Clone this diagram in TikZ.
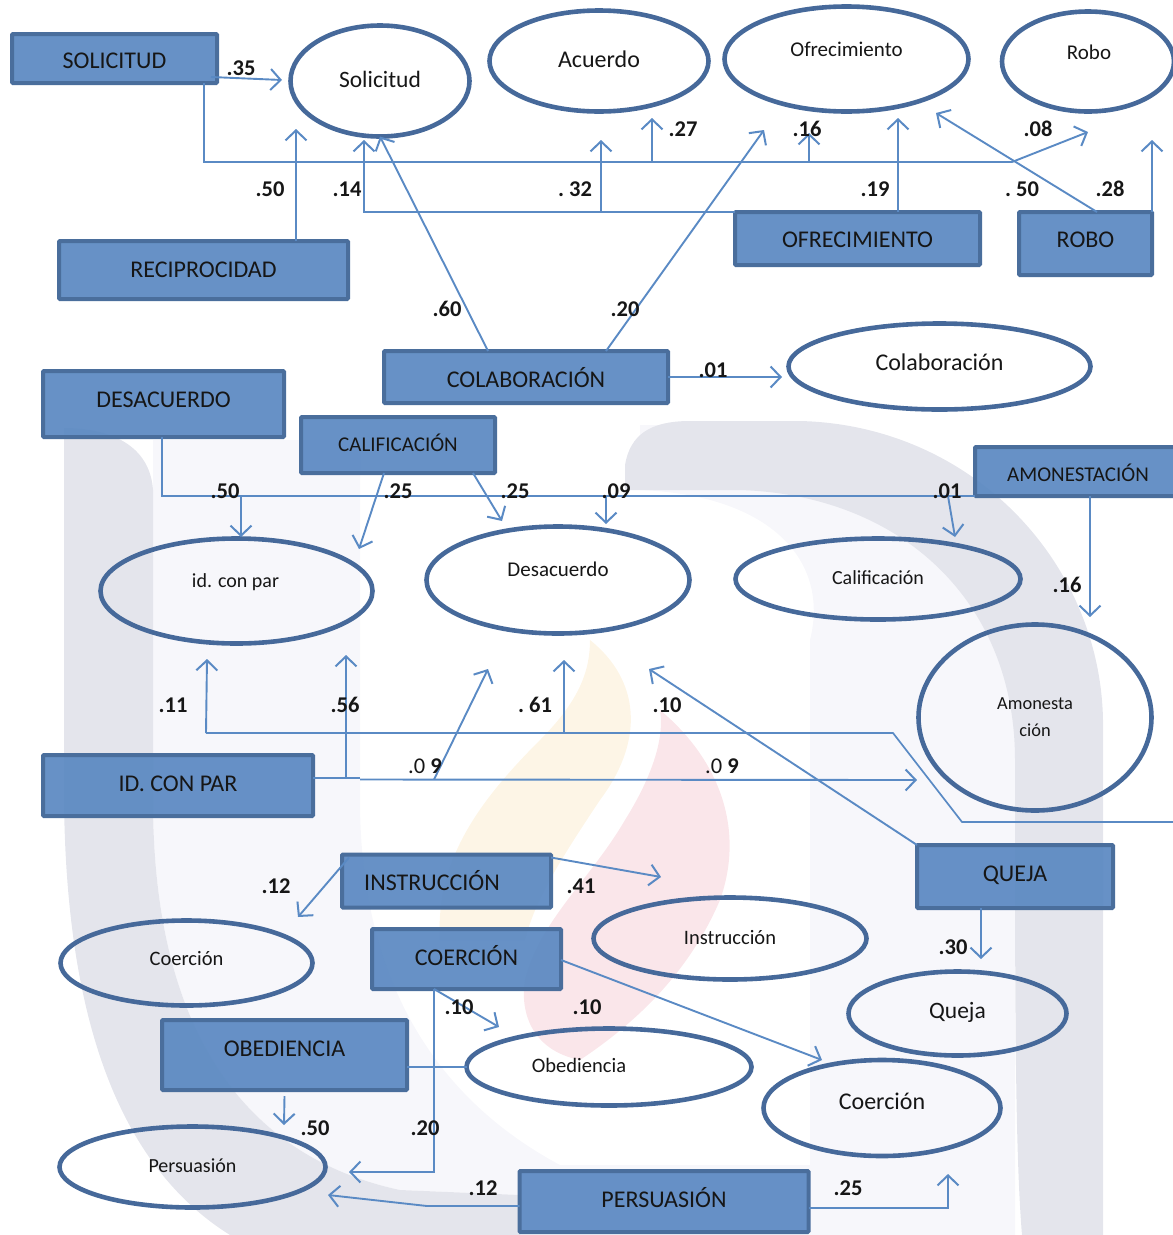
\documentclass[tikz,border=0pt]{standalone}
\usepackage{fontspec}
\setmainfont{Carlito}
\usetikzlibrary{arrows.meta,shapes.geometric}
\definecolor{boxfill}{HTML}{5B89C2}
\definecolor{boxedge}{HTML}{4A6E9C}
\definecolor{ringcol}{HTML}{46699A}
\definecolor{linkcol}{HTML}{5A8AC4}
\definecolor{inkcol}{HTML}{161616}
\definecolor{wmdark}{HTML}{E4E5EC}
\definecolor{wmlight}{HTML}{F7F7FB}
\definecolor{wmyellow}{HTML}{FDF5E6}
\definecolor{wmpink}{HTML}{FAE6EA}
\newcommand{\placed}[3]{\raisebox{\dimexpr -#2pt - 7pt\relax}[0pt][0pt]{\hspace*{\dimexpr 2\dimexpr #1pt\relax\relax}#3}}
\tikzset{
  fs/.style={font=\fontsize{#1}{#1}\selectfont},
  blockbox/.style={rectangle,draw=boxedge,line width=4pt,rounded corners=1pt,fill=boxfill,fill opacity=.93,text opacity=1,text=inkcol,inner sep=0pt,outer sep=0pt,fs=24},
  ring/.style={ellipse,draw=ringcol,line width=4.6pt,inner sep=0pt,outer sep=0pt,text=inkcol,fs=21},
  val/.style={text=inkcol,inner sep=0pt,fs=22.5,font=\fontsize{22.5}{24}\selectfont\bfseries},
  link/.style={draw=linkcol,line width=1.9pt,line join=miter},
  arr/.style={link,-{Straight Barb[length=10pt,width=21pt,line width=2pt]}},
}
\begin{document}
\begin{tikzpicture}[x=1pt,y=-1pt]
\useasboundingbox (0,0) rectangle (1173,1235);
% watermark
\fill[wmlight] (153,440) -- (360,440) -- (360,800) .. controls (360,960) and (420,1090) .. (560,1165) -- (810,1165) -- (810,1235) -- (520,1235) -- (520,1195) -- (400,1190) .. controls (260,1160) and (153,1050) .. (153,800) -- cycle;
\fill[wmlight] (810,1235) -- (810,640) .. controls (830,560) and (770,495) .. (640,490) -- (640,425) -- (800,425) -- (1015,640) -- (1015,1235) -- cycle;
\fill[wmdark] (64,428) -- (64,800) .. controls (66,1000) and (110,1160) .. (230,1235) -- (520,1235) -- (520,1195) -- (400,1190) .. controls (260,1160) and (153,1050) .. (153,800) -- (153,490) .. controls (150,445) and (110,428) .. (64,428) -- cycle;
\fill[wmdark] (625,490) -- (625,465) .. controls (630,435) and (650,421) .. (690,421) -- (800,421) .. controls (970,425) and (1100,560) .. (1103,720) -- (1103,1235) -- (1022,1235) .. controls (1015,1150) and (1015,1000) .. (1015,760) .. controls (1015,600) and (900,495) .. (740,490) -- cycle;
\fill[wmyellow] (590,640) .. controls (640,680) and (645,740) .. (600,800) .. controls (560,860) and (535,900) .. (525,940) -- (440,940) .. controls (435,860) and (480,800) .. (540,740) .. controls (580,700) and (590,670) .. (590,640) -- cycle;
\fill[wmpink] (660,710) .. controls (720,760) and (745,830) .. (720,900) .. controls (690,970) and (640,1020) .. (580,1060) .. controls (530,1050) and (520,1010) .. (525,980) .. controls (540,920) and (590,880) .. (625,820) .. controls (650,780) and (665,740) .. (660,710) -- cycle;
% blocks
\node[blockbox,minimum width=205pt,minimum height=49pt] (SOL) at (114.5,58.5) {\placed{0}{3}{SOLICITUD}};
\node[blockbox,minimum width=289pt,minimum height=58pt] (REC) at (203.5,270) {\placed{0}{0}{RECIPROCIDAD}};
\node[blockbox,minimum width=284pt,minimum height=52pt] (COL) at (526,377) {\placed{0}{3}{COLABORACIÓN}};
\node[blockbox,minimum width=245pt,minimum height=53pt] (OFR) at (857.5,238.5) {\placed{0}{2}{OFRECIMIENTO}};
\node[blockbox,minimum width=133pt,minimum height=63pt] (ROB) at (1085.5,243.5) {\placed{0}{-3}{ROBO}};
\node[blockbox,minimum width=241pt,minimum height=66pt] (DES) at (163.5,404) {\placed{0}{-4}{DESACUERDO}};
\node[blockbox,minimum width=194pt,minimum height=56pt,fs=21] (CAL) at (398,445) {\placed{0}{-1}{CALIFICACIÓN}};
\node[blockbox,minimum width=210pt,minimum height=49pt,fs=21] (AMO) at (1080,471.5) {\placed{-2}{2.5}{AMONESTACIÓN}};
\node[blockbox,minimum width=270pt,minimum height=61pt] (IDC) at (178,785.5) {\placed{0}{-1.5}{ID. CON PAR}};
\node[blockbox,minimum width=209pt,minimum height=53pt] (INS) at (446.5,881) {\placed{-14.5}{2}{INSTRUCCIÓN}};
\node[blockbox,minimum width=189pt,minimum height=60pt] (COE) at (466.5,959) {\placed{0}{-1}{COERCIÓN}};
\node[blockbox,minimum width=245pt,minimum height=70pt] (OBE) at (284.5,1055) {\placed{0}{-6}{OBEDIENCIA}};
\node[blockbox,minimum width=289pt,minimum height=61pt] (PER) at (664,1201.5) {\placed{0}{-1.5}{PERSUASIÓN}};
\node[blockbox,minimum width=196pt,minimum height=63pt] (QUE) at (1015,876.5) {\placed{0}{-2.5}{QUEJA}};
% ellipses
\node[ring,minimum width=179pt,minimum height=111pt,fs=23.5] (eSol) at (380,81) {\placed{0}{-1}{Solicitud}};
\node[ring,minimum width=219pt,minimum height=101pt,fs=24] (eAcu) at (599,61) {\placed{0}{-1}{Acuerdo}};
\node[ring,minimum width=244pt,minimum height=105pt,fs=21] (eOfr) at (846.5,59) {\placed{0}{-10}{Ofrecimiento}};
\node[ring,minimum width=172pt,minimum height=100pt,fs=21] (eRob) at (1088,61.5) {\placed{1}{-9.5}{Robo}};
\node[ring,minimum width=302pt,minimum height=86pt,fs=24] (eCol) at (939.5,366.5) {\placed{0}{-3}{Colaboración}};
\node[ring,minimum width=272pt,minimum height=105pt,fs=20] (ePar) at (236.5,591) {\placed{-1}{-11}{id. con par}};
\node[ring,minimum width=263pt,minimum height=107pt,fs=21] (eDes) at (558,580) {\placed{0}{-11}{Desacuerdo}};
\node[ring,minimum width=285pt,minimum height=81pt,fs=20] (eCal) at (878,579) {\placed{0}{-2}{Calificación}};
\node[ring,minimum width=233pt,minimum height=186pt,fs=18.4,align=center,font=\fontsize{18.4}{27}\selectfont] (eAmo) at (1035,717.5) {Amonesta\\ción};
\node[ring,minimum width=252pt,minimum height=85pt,fs=20.5] (eCoeA) at (186.5,963) {\placed{0}{-5}{Coerción}};
\node[ring,minimum width=273pt,minimum height=82pt,fs=20.5] (eIns) at (730,938.5) {\placed{0}{-1.5}{Instrucción}};
\node[ring,minimum width=285pt,minimum height=77pt,fs=20.5] (eObe) at (609,1067) {\placed{-30}{-2}{Obediencia}};
\node[ring,minimum width=218pt,minimum height=84pt,fs=23.5] (eQue) at (957.5,1013.5) {\placed{0}{-2}{Queja}};
\node[ring,minimum width=237pt,minimum height=96pt,fs=24] (eCoeB) at (882,1108) {\placed{0}{-6}{Coerción}};
\node[ring,minimum width=266pt,minimum height=81pt,fs=20] (ePer) at (192.5,1167) {\placed{0}{-2}{Persuasión}};
% free ends and junctions
\coordinate (tSol) at (282,80);
\coordinate (jTop) at (1012,162);
\coordinate (tTop) at (1088,132);
\coordinate (bA) at (652,162);  \coordinate (tA) at (652,118);
\coordinate (bB) at (809,162);  \coordinate (tB) at (809,133);
\coordinate (tRec) at (296,129);
\coordinate (tOfrA) at (364,140);
\coordinate (bOfr) at (601,212); \coordinate (tOfrB) at (601,140);
\coordinate (tOfrC) at (898,118);
\coordinate (tColB) at (764,130);
\coordinate (tColC) at (782,377);
\coordinate (tRobA) at (936,113);
\coordinate (tRobB) at (1152,140);
\coordinate (jDes) at (162,496);
\coordinate (bDesA) at (241,496); \coordinate (tDesA) at (241,537);
\coordinate (bDesB) at (606,496); \coordinate (tDesB) at (606,524);
\coordinate (bDesC) at (948,496); \coordinate (tDesC) at (955,537);
\coordinate (tCalA) at (359,549);
\coordinate (tCalB) at (502,521);
\coordinate (tAmo) at (1090,617);
\coordinate (jPar) at (360,778);
\coordinate (jParB) at (360,779.5);
\coordinate (tPar) at (917,780);
\coordinate (tParA) at (346,655);
\coordinate (bParB) at (434,779.5); \coordinate (tParB) at (488,669);
\coordinate (lineA) at (206,733);
\coordinate (lineB) at (893,733);
\coordinate (lineC) at (962,822);
\coordinate (lineD) at (1173,822);
\coordinate (tLineA) at (207,659);
\coordinate (bLineB) at (564,733); \coordinate (tLineB) at (564,660);
\coordinate (tQueA) at (649,669);
\coordinate (tQueB) at (981,959);
\coordinate (tInsA) at (298,917);
\coordinate (tInsB) at (661,877);
\coordinate (jCoe) at (434,1172);
\coordinate (tCoeA) at (349,1172);
\coordinate (tCoeB) at (499,1027);
\coordinate (tCoeC) at (822,1060);
\coordinate (tObe) at (284,1125);
\coordinate (jPer) at (427,1206);
\coordinate (tPerA) at (328,1195);
\coordinate (jPerB) at (948,1208);
\coordinate (tPerB) at (948,1174);
% connectors
\draw[arr] ([xshift=-6pt,yshift=6pt]SOL.south east) -- (tSol);
\draw[arr] ([xshift=-13pt]SOL.south east) |- (jTop) -- (tTop);
\draw[arr] (bA) -- (tA);
\draw[arr] (bB) -- (tB);
\draw[arr] ([xshift=92.5pt,yshift=0pt]REC.north) -- (tRec);
\draw[arr] (OFR.north west |- bOfr) -| (tOfrA);
\draw[arr] (bOfr) -- (tOfrB);
\draw[arr] ([xshift=40.5pt]OFR.north) -- (tOfrC);
\draw[arr] ([xshift=-38pt]COL.north) -- (eSol.south);
\draw[arr] ([xshift=80pt]COL.north) -- (tColB);
\draw[arr] (COL.east) -- (tColC);
\draw[arr] ([xshift=11.5pt]ROB.north) -- (tRobA);
\draw[arr] ([xshift=66.5pt]ROB.north) -- (tRobB);
\draw[link] (DES.south -| jDes) -- (jDes) -- (AMO.west |- jDes);
\draw[arr] (bDesA) -- (tDesA);
\draw[arr] (bDesB) -- (tDesB);
\draw[arr] (bDesC) -- (tDesC);
\draw[arr] ([xshift=-14pt]CAL.south) -- (tCalA);
\draw[arr] ([xshift=75pt]CAL.south) -- (tCalB);
\draw[arr] (AMO.south -| tAmo) -- (tAmo);
\draw[link] (IDC.east |- jPar) -- (jPar);
\draw[arr] (jParB) -- (tPar);
\draw[arr] (IDC.east -| tParA) ++(0,-7.5) -- (tParA);
\draw[arr] (bParB) -- (tParB);
\draw[link,line width=1.7pt] (lineA) -- (lineB) -- (lineC) -- (lineD);
\draw[arr] (lineA) -- (tLineA);
\draw[arr] (bLineB) -- (tLineB);
\draw[arr] (QUE.north west) -- (tQueA);
\draw[arr] (QUE.south -| tQueB) -- (tQueB);
\draw[arr] ([xshift=7pt,yshift=-3pt]INS.north west) -- (tInsA);
\draw[arr] ([yshift=-3pt]INS.north east) -- (tInsB);
\draw[arr] (COE.south -| jCoe) -- (jCoe) -- (tCoeA);
\draw[arr] (COE.south -| jCoe) -- (tCoeB);
\draw[arr] (COE.east |- 0,960) -- (tCoeC);
\draw[link] (OBE.east |- eObe.west) -- (eObe.west);
\draw[arr] ([yshift=-6pt]OBE.south) -- (tObe);
\draw[arr] (PER.west |- jPer) -- (jPer) -- (tPerA);
\draw[arr] (PER.east |- jPerB) -- (jPerB) -- (tPerB);
% values
\node[val] (v01) at (241,68) {.35};
\node[val] (v02) at (683,129) {.27};
\node[val] (v03) at (807,129) {.16};
\node[val] (v04) at (1038,129) {.08};
\node[val] (v05) at (270,189) {.50};
\node[val] (v06) at (347,189) {.14};
\node[val] (v07) at (575,189) {.\ 32};
\node[val] (v08) at (875,189) {.19};
\node[val] (v09) at (1022,189) {.\ 50};
\node[val] (v10) at (1110,189) {.28};
\node[val] (v11) at (447,309) {.60};
\node[val] (v12) at (625,309) {.20};
\node[val] (v13) at (713,370) {.01};
\node[val] (v14) at (225,491) {.50};
\node[val] (v15) at (398,491) {.25};
\node[val] (v16) at (515,491) {.25};
\node[val] (v17) at (616,491) {.09};
\node[val] (v18) at (947,491) {.01};
\node[val] (v19) at (1067,585) {.16};
\node[val] (v20) at (173,705) {.11};
\node[val] (v21) at (345,705) {.56};
\node[val] (v22) at (535,705) {.\ 61};
\node[val] (v23) at (667,705) {.10};
\node[val] (v24) at (425,766) {\mdseries .0 \bfseries 9};
\node[val] (v25) at (722,766) {\mdseries .0 \bfseries 9};
\node[val] (v26) at (276,886) {.12};
\node[val] (v27) at (581,886) {.41};
\node[val] (v28) at (459,1007) {.10};
\node[val] (v29) at (587,1007) {.10};
\node[val] (v30) at (953,947) {.30};
\node[val] (v31) at (315,1128) {.50};
\node[val] (v32) at (425,1128) {.20};
\node[val] (v33) at (483,1188) {.12};
\node[val] (v34) at (848,1188) {.25};
\end{tikzpicture}
\end{document}
